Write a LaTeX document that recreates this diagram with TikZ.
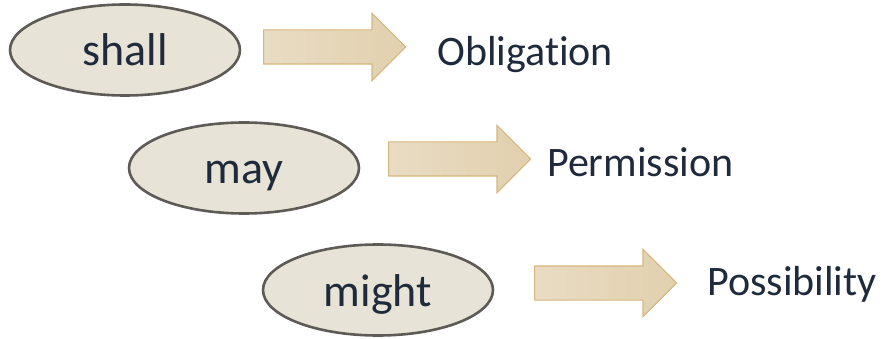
\documentclass[tikz,border=0pt]{standalone}
\usepackage{fontspec}
\setmainfont{Carlito}[Ligatures=NoCommon]
\usetikzlibrary{shapes.geometric,shapes.arrows}
\definecolor{ovalfill}{HTML}{E7E3D6}
\definecolor{ovalline}{HTML}{5E5A55}
\definecolor{arrline}{HTML}{D6B77F}
\definecolor{arrleft}{HTML}{E9DCC4}
\definecolor{arrright}{HTML}{E2D0AE}
\definecolor{ink}{HTML}{1F2B3D}
\tikzset{
  modal/.style={ellipse, draw=ovalline, fill=ovalfill, line width=2.6pt,
    minimum width=230pt, minimum height=91pt, inner sep=0pt,
    text=ink, font=\fontsize{46}{50}\selectfont, text height=36pt, text depth=4pt},
  fatarrow/.style={single arrow, draw=arrline, line width=1.2pt, anchor=tail,
    left color=arrleft, right color=arrright, inner xsep=0pt, inner ysep=16.5pt,
    minimum height=142pt, single arrow head extend=16.5pt},
  meaning/.style={anchor=base west, inner sep=0pt, text=ink,
    font=\fontsize{42}{46}\selectfont}
}
\begin{document}
\begin{tikzpicture}[x=1pt, y=-1pt]
  \useasboundingbox (0,0) rectangle (881,339);
  % first row
  \node[modal] (shall) at (125,50) {shall};
  \node[fatarrow] (a1) at (263,47) {};
  \node[meaning] (obl) at (437,66) {Obligation};
  % second row
  \node[modal] (may) at (244,168) {may};
  \node[fatarrow] (a2) at (388,159) {};
  \node[meaning] (perm) at (547,177) {Permission};
  % third row
  \node[modal] (might) at (378,290) {might};
  \node[fatarrow] (a3) at (534,283) {};
  \node[meaning] (poss) at (707,295) {Possibility};
\end{tikzpicture}
\end{document}
